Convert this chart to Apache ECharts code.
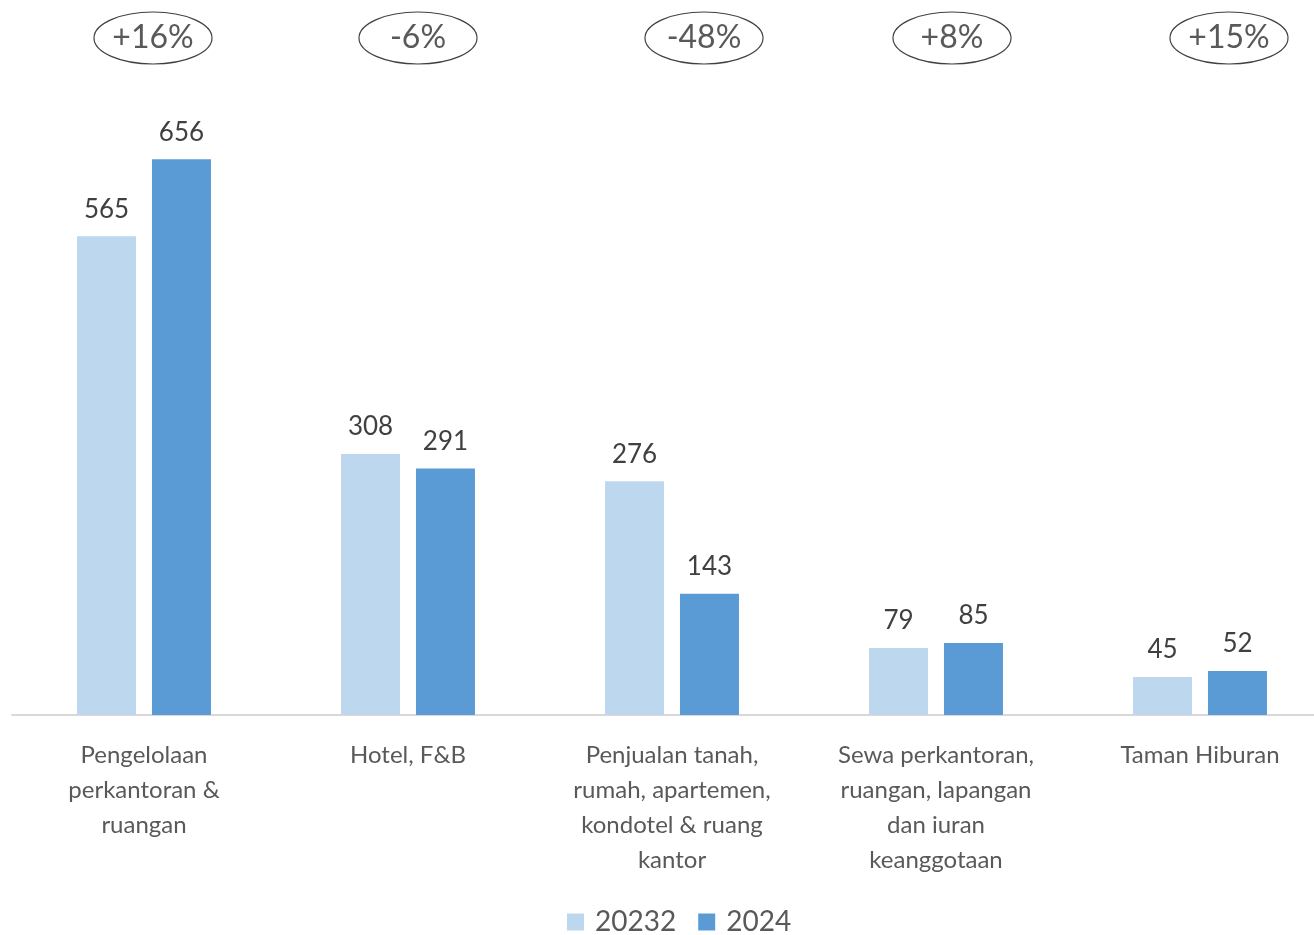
<!DOCTYPE html>
<html>
<head>
<meta charset="utf-8">
<script src="https://cdn.jsdelivr.net/npm/echarts@6/dist/echarts.min.js"></script>
<style>
  html, body { margin: 0; padding: 0; background: #fff; }
  #chart { width: 1314px; height: 935px; }
</style>
</head>
<body>
<div id="chart"></div>
<script>
var categories = [
  "Pengelolaan\nperkantoran &\nruangan",
  "Hotel, F&B",
  "Penjualan tanah,\nrumah, apartemen,\nkondotel & ruang\nkantor",
  "Sewa perkantoran,\nruangan, lapangan\ndan iuran\nkeanggotaan",
  "Taman Hiburan"
];
var values2023 = [565, 308, 276, 79, 45];
var values2024 = [656, 291, 143, 85, 52];
var changes = ["+16%", "-6%", "-48%", "+8%", "+15%"];
var seriesNames = ["20232", "2024"];

// ellips digeser sedikit ke kanan seperti di gambar asli
var ellipseShift = [9, 10, 32, 16, 29];

var font = "Lato, 'Open Sans', sans-serif";
var chart = echarts.init(document.getElementById("chart"));

var option = {
  animation: false,
  textStyle: { fontFamily: font },
  grid: { left: 12, width: 1320, top: 122, bottom: 220, containLabel: false, outerBoundsMode: "none" },
  legend: {
    top: 903,
    left: 562,
    itemWidth: 17,
    itemHeight: 17,
    itemGap: 22,
    icon: "rect",
    textStyle: { fontSize: 28, color: "#595959", fontFamily: font, padding: [0, 0, 0, 6] },
    data: seriesNames
  },
  xAxis: {
    type: "category",
    data: categories,
    axisTick: { show: false },
    axisLine: { show: true, lineStyle: { color: "#d9d9d9", width: 2 } },
    axisLabel: {
      interval: 0,
      margin: 23,
      fontSize: 24,
      lineHeight: 35,
      color: "#595959",
      fontFamily: font
    }
  },
  yAxis: {
    type: "value",
    min: 0,
    max: 700,
    show: false,
    splitLine: { show: false }
  },
  series: [
    {
      name: seriesNames[0],
      type: "bar",
      barWidth: 59,
      barGap: "27%",
      itemStyle: { color: "#bdd7ee" },
      label: { show: true, position: "top", distance: 14, fontSize: 26, color: "#404040", fontFamily: font },
      data: values2023
    },
    {
      name: seriesNames[1],
      type: "bar",
      barWidth: 59,
      itemStyle: { color: "#5b9bd5" },
      label: { show: true, position: "top", distance: 14, fontSize: 26, color: "#404040", fontFamily: font },
      data: values2024
    },
    {
      name: "change",
      type: "custom",
      silent: true,
      data: changes.map(function (c, i) { return [i, 0]; }),
      renderItem: function (params, api) {
        var x = api.coord([api.value(0), 0])[0] + ellipseShift[params.dataIndex];
        return {
          type: "group",
          children: [
            {
              type: "ellipse",
              shape: { cx: x, cy: 38, rx: 59, ry: 26 },
              style: { fill: "#fff", stroke: "#404040", lineWidth: 1.2 }
            },
            {
              type: "text",
              style: {
                x: x, y: 38,
                text: changes[params.dataIndex],
                align: "center",
                verticalAlign: "middle",
                fontSize: 32,
                fill: "#595959",
                fontFamily: font
              }
            }
          ]
        };
      }
    }
  ]
};
chart.setOption(option);
</script>
</body>
</html>
